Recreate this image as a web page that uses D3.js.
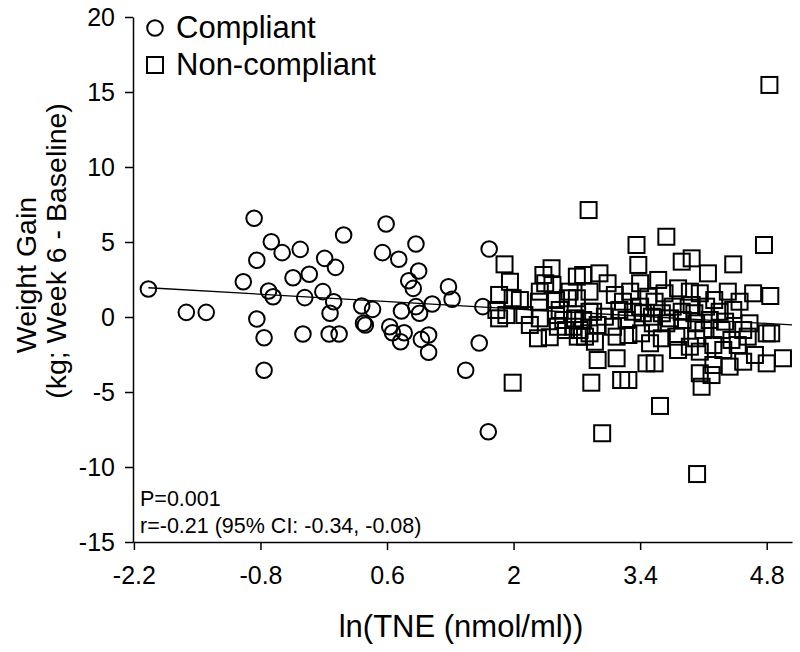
<!DOCTYPE html>
<html>
<head>
<meta charset="utf-8">
<script src="https://cdn.jsdelivr.net/npm/d3@7"></script>
<style>
  body { margin: 0; background: #fff; }
  svg text { font-family: "Liberation Sans", Arial, sans-serif; fill: #000; }
</style>
</head>
<body>
<div id="chart"></div>
<script>
// Compliant subjects: [ln(TNE), weight gain]
const compliant = [
  [-2.04, 1.87], [-1.62, 0.31], [-1.40, 0.31], [-0.99, 2.35], [-0.87, 6.58], [-0.84, 3.78],
  [-0.71, 1.73], [-0.66, 1.35], [-0.84, -0.13], [-0.76, -1.38], [-0.76, -3.55], [-0.68, 5.02],
  [-0.56, 4.29], [-0.36, 4.51], [-0.44, 2.62], [-0.26, 2.85], [-0.31, 1.29], [-0.33, -1.13],
  [-0.09, 3.91], [0.03, 3.31], [-0.11, 1.69], [0.01, 1.02], [-0.03, 0.25], [-0.04, -1.13],
  [0.07, -1.13], [0.12, 5.47], [0.32, 0.73], [0.44, 0.51], [0.34, -0.42], [0.36, -0.53],
  [0.59, 6.2], [0.55, 4.29], [0.73, 3.85], [0.92, 4.87], [0.95, 3.07], [0.84, 2.42],
  [0.89, 1.91], [0.76, 0.4], [0.92, 0.69], [0.96, 0.25], [0.63, -0.65], [0.66, -1.05],
  [0.79, -1.05], [0.75, -1.65], [0.98, -1.49], [1.06, -1.2], [1.06, -2.35], [1.10, 0.87],
  [1.28, 2.02], [1.32, 1.18], [1.47, -3.55], [1.62, -1.73], [1.66, 0.69], [1.73, 4.53],
  [1.72, -7.65]
];

// Non-compliant subjects
const nonCompliant = [
  [1.90, 3.51], [1.96, 2.35], [1.99, 1.25], [1.84, 1.47], [1.81, 0.47], [1.92, 0.13],
  [1.84, -0.09], [2.42, 3.25], [2.33, 2.8], [2.43, 2.13], [2.35, 2.25], [2.28, 1.02],
  [2.47, 1.13], [2.29, -0.09], [2.47, 0.13], [2.27, -1.42], [2.40, -1.35], [2.49, -0.65],
  [2.70, 2.69], [2.77, 2.8], [2.84, 1.69], [2.70, 1.25], [2.68, -0.09], [2.77, -0.2],
  [2.71, -1.31], [2.79, -1.31], [2.90, -1.65], [2.55, -0.2], [2.58, -0.87], [2.93, -2.87],
  [1.99, -4.38], [2.07, 1.13], [2.12, 0.13], [2.18, -0.53],
  [2.29, 1.69], [2.51, 0.47], [2.60, 1.25], [2.62, 1.69], [2.66, -0.65], [2.73, -0.87],
  [2.84, -1.09], [2.88, 0.35], [2.84, 0.35],
  [3.36, 4.8], [3.69, 5.35], [3.38, 3.47], [3.86, 3.69], [3.97, 3.91], [2.95, 2.91],
  [3.04, 2.25], [3.12, 1.47], [3.40, 2.25], [3.60, 2.47], [3.49, 1.35], [3.67, 1.58],
  [3.82, 1.91], [3.95, 1.69], [3.97, 0.8], [3.17, 0.47], [3.40, 0.69], [3.43, 0.25],
  [3.76, 0.69], [2.93, -0.53], [3.10, -0.65], [3.25, -0.2], [3.54, -0.42], [3.69, -0.42],
  [3.87, -0.2], [4.02, -0.42], [3.14, -1.31], [3.27, -1.2], [3.41, -1.09], [3.51, -1.75],
  [3.64, -1.42], [3.80, -1.31], [3.95, -1.98], [3.82, -2.2], [3.14, -2.75], [3.47, -3.09],
  [3.56, -3.09],
  [3.01, 0.02], [3.32, 0.35], [3.53, 0.02], [3.64, 0.25], [3.73, -0.09], [3.86, 0.35],
  [4.00, 0.25], [3.21, 1.02], [3.56, 1.02], [3.29, 1.69],
  [4.77, 4.8], [4.43, 3.51], [4.15, 2.91], [4.37, 1.69], [4.65, 1.58], [4.84, 1.4],
  [4.50, 1.02], [4.22, 1.13], [4.06, 1.58], [4.28, 0.35], [4.43, 0.47], [4.17, -0.2],
  [4.30, -0.87], [4.54, -0.87], [4.80, -1.09], [4.85, -1.09], [4.02, -1.42], [4.21, -1.87],
  [4.48, -1.87], [4.67, -2.53], [4.80, -3.09], [4.98, -2.75], [4.39, -3.31], [4.21, -3.2],
  [4.06, -3.75],
  [4.13, 0.69], [4.10, -0.87], [4.34, -0.31], [4.61, -0.42], [4.41, -1.53], [4.59, -1.31],
  [4.06, -2.31], [4.32, -2.2], [4.54, -2.98],
  [2.86, -4.38], [3.19, -4.2], [3.27, -4.2], [3.62, -5.93], [2.98, -7.75], [4.03, -10.47],
  [4.08, -4.65], [4.19, -3.87], [2.83, 7.13], [4.83, 15.47]
];

const xTicks = [-2.2, -0.8, 0.6, 2, 3.4, 4.8];
const yTicks = [-15, -10, -5, 0, 5, 10, 15, 20];
const legendLabels = ['Compliant', 'Non-compliant'];
const statLines = ['P=0.001', 'r=-0.21 (95% CI: -0.34, -0.08)'];
const fitLine = { intercept: 1.24, slope: -0.348 };

const width = 800;
const height = 652;

const svg = d3.select('#chart').append('svg')
  .attr('width', width)
  .attr('height', height);

// scales: axes cross at bottom-left corner
const x = d3.scaleLinear().domain([-2.21, 5.08]).range([133, 792]);
const y = d3.scaleLinear().domain([-15, 20]).range([542, 17]);

// axes
const xAxis = d3.axisBottom(x)
  .tickValues(xTicks)
  .tickFormat((d) => String(d))
  .tickSizeInner(8)
  .tickSizeOuter(0)
  .tickPadding(16);

const yAxis = d3.axisLeft(y)
  .tickValues(yTicks)
  .tickFormat((d) => String(d))
  .tickSizeInner(8)
  .tickSizeOuter(0)
  .tickPadding(10);

const xAxisG = svg.append('g')
  .attr('transform', `translate(0,${y(-15)})`)
  .call(xAxis);

const yAxisG = svg.append('g')
  .attr('transform', `translate(${x(-2.21)},0)`)
  .call(yAxis);

[xAxisG, yAxisG].forEach((g) => {
  g.selectAll('path, line').attr('stroke', '#000').attr('stroke-width', 1.5);
  g.selectAll('text').style('font-size', '25px').attr('fill', '#000');
});

// regression line
const allPts = compliant.concat(nonCompliant);
const x0 = d3.min(allPts, (d) => d[0]);
const x1 = x.domain()[1];
svg.append('line')
  .attr('x1', x(x0))
  .attr('y1', y(fitLine.intercept + fitLine.slope * x0))
  .attr('x2', x(x1))
  .attr('y2', y(fitLine.intercept + fitLine.slope * x1))
  .attr('stroke', '#000')
  .attr('stroke-width', 1.3);

// points
const circleR = 7.8;
const sq = 16;

svg.append('g').selectAll('circle')
  .data(compliant)
  .join('circle')
  .attr('cx', (d) => x(d[0]))
  .attr('cy', (d) => y(d[1]))
  .attr('r', circleR)
  .attr('fill', 'none')
  .attr('stroke', '#000')
  .attr('stroke-width', 2);

svg.append('g').selectAll('rect')
  .data(nonCompliant)
  .join('rect')
  .attr('x', (d) => x(d[0]) - sq / 2)
  .attr('y', (d) => y(d[1]) - sq / 2)
  .attr('width', sq)
  .attr('height', sq)
  .attr('fill', 'none')
  .attr('stroke', '#000')
  .attr('stroke-width', 2);

// legend
const legend = svg.append('g');
legend.append('circle')
  .attr('cx', 155).attr('cy', 28).attr('r', circleR)
  .attr('fill', 'none').attr('stroke', '#000').attr('stroke-width', 2);
legend.append('rect')
  .attr('x', 155 - sq / 2).attr('y', 65 - sq / 2)
  .attr('width', sq).attr('height', sq)
  .attr('fill', 'none').attr('stroke', '#000').attr('stroke-width', 2);
legend.selectAll('text')
  .data(legendLabels)
  .join('text')
  .attr('x', 176)
  .attr('y', (d, i) => 38 + i * 37)
  .style('font-size', '31px')
  .text((d) => d);

// stats annotation
svg.selectAll('.stat')
  .data(statLines)
  .join('text')
  .attr('class', 'stat')
  .attr('x', 140)
  .attr('y', (d, i) => 506 + i * 27)
  .style('font-size', '21.5px')
  .text((d) => d);

// axis titles
svg.append('text')
  .attr('transform', 'translate(36,275) rotate(-90)')
  .attr('text-anchor', 'middle')
  .style('font-size', '28.5px')
  .text('Weight Gain');
svg.append('text')
  .attr('transform', 'translate(66,251) rotate(-90)')
  .attr('text-anchor', 'middle')
  .style('font-size', '28.5px')
  .text('(kg; Week 6 - Baseline)');

svg.append('text')
  .attr('x', 461)
  .attr('y', 637)
  .attr('text-anchor', 'middle')
  .style('font-size', '31px')
  .text('ln(TNE (nmol/ml))');
</script>
</body>
</html>
